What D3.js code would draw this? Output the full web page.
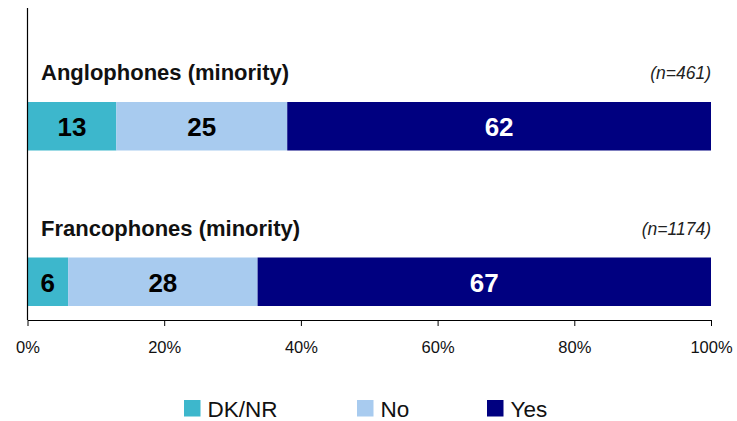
<!DOCTYPE html>
<html>
<head>
<meta charset="utf-8">
<script src="https://cdn.jsdelivr.net/npm/d3@7"></script>
<style>
  body { margin: 0; background: #fff; }
  svg { display: block; font-family: "Liberation Sans", Arial, sans-serif; }
</style>
</head>
<body>
<svg id="chart" width="737" height="421"></svg>
<script>
// Groups, sample sizes and answer shares (%)
const groups = ["Anglophones (minority)", "Francophones (minority)"];
const sampleSizes = ["461", "1174"];
const answers = ["DK/NR", "No", "Yes"];
const dkValues = [13, 6];
const noValues = [25, 28];
const yesValues = [62, 67];
const tickValues = [0, 20, 40, 60, 80, 100];

const colors = { "DK/NR": "#3DB7CC", "No": "#A8CBEF", "Yes": "#000080" };
const labelColors = { "DK/NR": "#000", "No": "#000", "Yes": "#fff" };

const svg = d3.select("#chart");
const left = 27.5, right = 711, axisY = 320;

const x = d3.scaleLinear().domain([0, 100]).range([left, right]);
// One band per group; the bar starts at the top of its band
const y = d3.scaleBand().domain(groups).range([102, 413]).padding(0);

// Rows: each stacked bar is scaled to its own total so it fills the axis
const rows = groups.map((g, i) => {
  const vals = { "DK/NR": dkValues[i], "No": noValues[i], "Yes": yesValues[i] };
  const total = answers.reduce((s, a) => s + vals[a], 0);
  let acc = 0;
  const segs = answers.map(a => {
    const x0 = acc / total * 100;
    acc += vals[a];
    return { key: a, value: vals[a], x0, x1: acc / total * 100 };
  });
  return { group: g, n: sampleSizes[i], segs };
});

const barH = 48.5;
const rowG = svg.selectAll("g.row").data(rows).join("g").attr("class", "row");

rowG.each(function(d) {
  const g = d3.select(this);
  const by = y(d.group);
  g.selectAll("rect").data(d.segs).join("rect")
    .attr("x", s => x(s.x0))
    .attr("width", s => x(s.x1) - x(s.x0))
    .attr("y", by)
    .attr("height", barH)
    .attr("fill", s => colors[s.key]);
  g.selectAll("text.val").data(d.segs).join("text")
    .attr("class", "val")
    .attr("x", s => (x(s.x0) + x(s.x1)) / 2)
    .attr("y", by + barH / 2 + 10)
    .attr("text-anchor", "middle")
    .attr("font-size", 26)
    .attr("font-weight", "bold")
    .attr("fill", s => labelColors[s.key])
    .text(s => s.value);
  g.append("text")
    .attr("x", 41)
    .attr("y", by - 22)
    .attr("font-size", 22)
    .attr("font-weight", "bold")
    .attr("fill", "#111")
    .text(d.group);
  const nt = g.append("text")
    .attr("x", right)
    .attr("y", by - 23)
    .attr("text-anchor", "end")
    .attr("font-size", 17.5)
    .attr("font-style", "italic")
    .attr("fill", "#222");
  nt.append("tspan").text("(");
  nt.append("tspan").text("n");
  nt.append("tspan").text("=" + d.n + ")");
});

// Vertical baseline on the left
svg.append("line")
  .attr("x1", left).attr("x2", left)
  .attr("y1", 8).attr("y2", axisY)
  .attr("stroke", "#000").attr("stroke-width", 1.2);

// Bottom percentage axis
const xAxis = d3.axisBottom(x)
  .tickValues(tickValues)
  .tickFormat(d => d + "%")
  .tickSizeInner(6)
  .tickSizeOuter(0);
const ax = svg.append("g").attr("transform", `translate(0,${axisY})`).call(xAxis);
ax.select(".domain").attr("stroke", "#000").attr("stroke-width", 1.2);
ax.selectAll(".tick line").attr("stroke", "#000");
ax.selectAll(".tick text")
  .attr("font-family", "Liberation Sans, Arial, sans-serif")
  .attr("font-size", 16.5)
  .attr("fill", "#111")
  .attr("y", 33)
  .attr("dy", 0);

// Legend
const legendX = [184, 357, 487];
const lg = svg.selectAll("g.legend").data(answers).join("g")
  .attr("class", "legend")
  .attr("transform", (d, i) => `translate(${legendX[i]},400)`);
lg.append("rect").attr("width", 16.5).attr("height", 16.5).attr("fill", d => colors[d]);
lg.append("text")
  .attr("x", 23.5).attr("y", 16.7)
  .attr("font-size", 22.5)
  .attr("fill", "#111")
  .text(d => d);
</script>
</body>
</html>
